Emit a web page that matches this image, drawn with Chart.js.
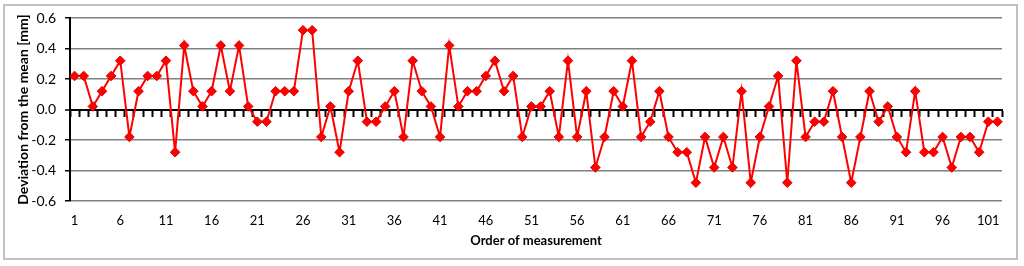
<!DOCTYPE html>
<html>
<head>
<meta charset="utf-8">
<script src="https://cdn.jsdelivr.net/npm/chart.js@4.4.1/dist/chart.umd.min.js"></script>
<style>
  html, body { margin: 0; padding: 0; background: #fff; }
  #frame { position: absolute; left: 3px; top: 4px; width: 1011px; height: 252px; border: 2px solid #c0c0c0; }
  #chart { position: absolute; left: 0; top: 0; }
</style>
</head>
<body>
<div id="frame"></div>
<canvas id="chart" width="1024" height="266"></canvas>
<script>
// deviation from the mean [mm] for each measurement, in order
const deviations = [
  0.22, 0.22, 0.02, 0.12, 0.22, 0.32, -0.18, 0.12, 0.22, 0.22,
  0.32, -0.28, 0.42, 0.12, 0.02, 0.12, 0.42, 0.12, 0.42, 0.02,
  -0.08, -0.08, 0.12, 0.12, 0.12, 0.52, 0.52, -0.18, 0.02, -0.28,
  0.12, 0.32, -0.08, -0.08, 0.02, 0.12, -0.18, 0.32, 0.12, 0.02,
  -0.18, 0.42, 0.02, 0.12, 0.12, 0.22, 0.32, 0.12, 0.22, -0.18,
  0.02, 0.02, 0.12, -0.18, 0.32, -0.18, 0.12, -0.38, -0.18, 0.12,
  0.02, 0.32, -0.18, -0.08, 0.12, -0.18, -0.28, -0.28, -0.48, -0.18,
  -0.38, -0.18, -0.38, 0.12, -0.48, -0.18, 0.02, 0.22, -0.48, 0.32,
  -0.18, -0.08, -0.08, 0.12, -0.18, -0.48, -0.18, 0.12, -0.08, 0.02,
  -0.18, -0.28, 0.12, -0.28, -0.28, -0.18, -0.38, -0.18, -0.18, -0.28,
  -0.08, -0.08
];
const measurements = deviations.map((_, i) => String(i + 1));
const yTicks = { min: -0.6, max: 0.6, step: 0.1 };
const labelEvery = 5;

const font = 'Lato';
const isMajor = v => Math.round(v * 10) % 2 === 0;

new Chart(document.getElementById('chart'), {
    type: 'line',
    data: {
        labels: measurements,
        datasets: [{
            data: deviations,
            borderColor: '#ff0000',
            backgroundColor: '#ff0000',
            borderWidth: 2,
            tension: 0,
            pointStyle: 'rectRot',
            pointRadius: 4.8,
            pointBorderWidth: 1,
            pointBorderColor: '#e00000',
            pointBackgroundColor: '#ff0000',
            xAxisID: 'x',
            yAxisID: 'y'
        }]
    },
    options: {
        responsive: false,
        devicePixelRatio: 1,
        animation: false,
        layout: { padding: { left: 0, top: 18, right: 22, bottom: 0 } },
        plugins: { legend: { display: false }, tooltip: { enabled: false } },
        scales: {
            x: {
                type: 'category',
                position: 'bottom',
                offset: true,
                grid: { display: false, drawTicks: false },
                border: { display: false },
                ticks: {
                    autoSkip: false,
                    maxRotation: 0,
                    padding: 12,
                    color: '#000',
                    font: { family: font, size: 13 },
                    callback: function (v, i) { return i % labelEvery === 0 ? this.getLabelForValue(v) : ''; }
                },
                title: {
                    display: true,
                    text: 'Order of measurement',
                    color: '#000',
                    font: { family: font, size: 13, weight: 'bold' },
                    padding: { top: 0, bottom: 17 }
                },
                afterFit: s => { s.height = 65; }
            },
            xZero: {
                type: 'category',
                position: { y: 0 },
                offset: true,
                grid: { drawOnChartArea: false, offset: true, tickLength: 6, tickWidth: 2, tickColor: '#000' },
                border: { display: true, color: '#000', width: 2 },
                ticks: { display: false }
            },
            y: {
                min: yTicks.min,
                max: yTicks.max,
                grid: {
                    color: c => Math.round(c.tick.value * 10) === 0 ? '#000' : (isMajor(c.tick.value) ? '#808080' : '#d9d9d9'),
                    lineWidth: c => Math.round(c.tick.value * 10) === 0 ? 2 : 1.5,
                    tickLength: 5,
                    tickWidth: 1.5,
                    tickColor: c => isMajor(c.tick.value) ? '#000' : 'rgba(0,0,0,0)'
                },
                border: { color: '#000', width: 2 },
                ticks: {
                    stepSize: yTicks.step,
                    padding: 9,
                    color: '#000',
                    font: { family: font, size: 14 },
                    callback: v => isMajor(v) ? (Math.round(v * 10) / 10).toFixed(1) : ''
                },
                title: {
                    display: true,
                    text: 'Deviation from the mean [mm]',
                    color: '#000',
                    font: { family: font, size: 14, weight: 'bold' },
                    padding: { top: 15, bottom: 0 }
                },
                afterFit: s => { s.width = 70; }
            }
        }
    }
});
</script>
</body>
</html>
